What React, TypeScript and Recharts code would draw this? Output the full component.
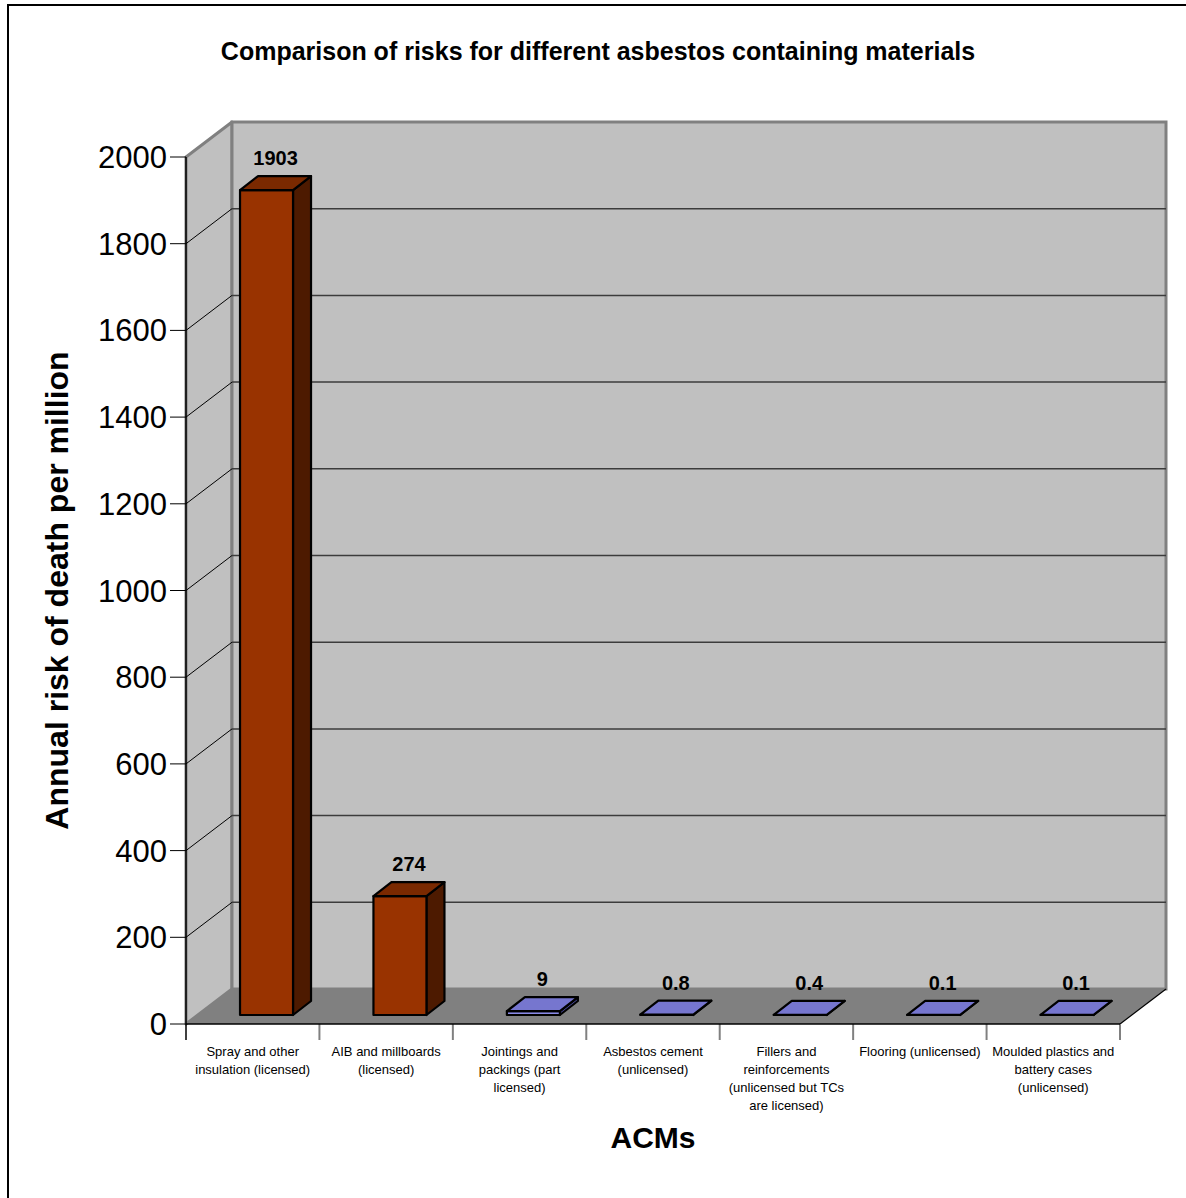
import React from 'react';
import {
  BarChart,
  Bar,
  XAxis,
  YAxis,
  CartesianGrid,
  ReferenceArea,
  LabelList,
} from 'recharts';

// ---------- data ----------
const CATEGORIES: string[] = [
  'Spray and other\ninsulation (licensed)',
  'AIB and millboards\n(licensed)',
  'Jointings and\npackings (part\nlicensed)',
  'Asbestos cement\n(unlicensed)',
  'Fillers and\nreinforcements\n(unlicensed but TCs\nare licensed)',
  'Flooring (unlicensed)',
  'Moulded plastics and\nbattery cases\n(unlicensed)',
];
const RISK_VALUES: number[] = [1903, 274, 9, 0.8, 0.4, 0.1, 0.1];
const Y_TICKS: number[] = [0, 200, 400, 600, 800, 1000, 1200, 1400, 1600, 1800, 2000];
const TITLE = 'Comparison of risks for different asbestos containing materials';
const Y_TITLE = 'Annual risk of death per million';
const X_TITLE = 'ACMs';

const chartData = CATEGORIES.map((name, i) => ({ name, value: RISK_VALUES[i] }));

// ---------- styling ----------
const FONT = "'Liberation Sans', Arial, Helvetica, sans-serif";
const WALL_DX = 46;
const WALL_DY = 35;
const BAR_FX = 14;
const BAR_FY = 9;
const BAR_DX = 18;
const BAR_DY = 14;
const BROWN = { front: '#993300', top: '#7A2900', side: '#4D1A00' };
const BLUE = { front: '#8A8AE6', top: '#7676CF', side: '#4B4B99' };
const paletteFor = (i: number) => (i < 2 ? BROWN : BLUE);

const Walls = (props: any) => {
  const { x, y, width, height } = props;
  const b = y + height;
  const r = x + width;
  return (
    <g>
      <polygon
        points={`${x},${y} ${x + WALL_DX},${y - WALL_DY} ${x + WALL_DX},${b - WALL_DY} ${x},${b}`}
        fill="#C0C0C0"
        stroke="#808080"
        strokeWidth={3}
        strokeLinejoin="round"
      />
      <rect x={x + WALL_DX} y={y - WALL_DY} width={width} height={height} fill="#C0C0C0" stroke="#808080" strokeWidth={3} />
      <polygon
        points={`${x},${b} ${r},${b} ${r + WALL_DX},${b - WALL_DY} ${x + WALL_DX},${b - WALL_DY}`}
        fill="#808080"
      />
      <line x1={r} y1={b} x2={r + WALL_DX} y2={b - WALL_DY} stroke="#000" strokeWidth={1.2} />
    </g>
  );
};

const GridLine = (p: any) => {
  const { x1, y1, x2, index } = p;
  let edge = false;
  if (typeof p.y === 'number' && typeof p.height === 'number') {
    edge = Math.abs(y1 - p.y) < 0.5 || Math.abs(y1 - (p.y + p.height)) < 0.5;
  } else {
    edge = index === 0 || index === Y_TICKS.length - 1;
  }
  if (edge) return <g key={p.key} />;
  return (
    <g key={p.key}>
      <line x1={x1} y1={y1} x2={x1 + WALL_DX} y2={y1 - WALL_DY} stroke="#000" strokeWidth={1} />
      <line x1={x1 + WALL_DX} y1={y1 - WALL_DY} x2={x2 + WALL_DX} y2={y1 - WALL_DY} stroke="#3C3C3C" strokeWidth={1.5} />
    </g>
  );
};

const XTickMark = (p: any) => {
  const bottom = Math.max(p.y1, p.y2);
  const first = p.index === 0;
  return (
    <line
      key={p.key}
      x1={p.x1}
      y1={bottom}
      x2={p.x1}
      y2={bottom + 16}
      stroke={first ? '#000' : '#808080'}
      strokeWidth={first ? 1.5 : 2}
    />
  );
};

const boundaryGenerator = ({ xAxis, offset }: any) => {
  const s = xAxis && xAxis.scale;
  if (typeof s === 'function' && typeof s.bandwidth === 'function') {
    const bw = s.bandwidth();
    const xs = CATEGORIES.map((c) => s(c));
    if (xs.every((v) => typeof v === 'number' && !isNaN(v))) {
      return [...xs, xs[xs.length - 1] + bw];
    }
  }
  const n = CATEGORIES.length;
  return [...CATEGORIES.map((_, i) => offset.left + (i * offset.width) / n), offset.left + offset.width];
};

const Bar3D = (props: any) => {
  const { x, y, width, height, index } = props;
  const pal = paletteFor(index);
  const h = Math.max(height, 0);
  const fx = x + BAR_FX;
  const fy = y - BAR_FY;
  const bottom = fy + h;
  return (
    <g>
      <polygon
        points={`${fx + width},${fy} ${fx + width + BAR_DX},${fy - BAR_DY} ${fx + width + BAR_DX},${bottom - BAR_DY} ${fx + width},${bottom}`}
        fill={pal.side}
        stroke="#000"
        strokeWidth={2.2}
        strokeLinejoin="round"
      />
      <rect x={fx} y={fy} width={width} height={h} fill={pal.front} stroke="#000" strokeWidth={2.2} strokeLinejoin="round" />
      <polygon
        points={`${fx},${fy} ${fx + BAR_DX},${fy - BAR_DY} ${fx + width + BAR_DX},${fy - BAR_DY} ${fx + width},${fy}`}
        fill={pal.top}
        stroke="#000"
        strokeWidth={2.2}
        strokeLinejoin="round"
      />
    </g>
  );
};

const ValueLabel = (props: any) => {
  const { x, y, width, value } = props;
  const cx = x + BAR_FX + width / 2 + BAR_DX / 2;
  const cy = y - BAR_FY - BAR_DY - 18;
  return (
    <text x={cx} y={cy + 7} textAnchor="middle" fontFamily={FONT} fontWeight="bold" fontSize={20} fill="#000">
      {String(value)}
    </text>
  );
};

const CatTick = (props: any) => {
  const { x, y, payload } = props;
  const lines = String(payload.value).split('\n');
  return (
    <text x={x} y={y} textAnchor="middle" fontFamily={FONT} fontSize={13} fill="#000">
      {lines.map((l, i) => (
        <tspan key={i} x={x} y={y + 32 + i * 18}>
          {l}
        </tspan>
      ))}
    </text>
  );
};

const YTitle = (props: any) => {
  const vb = props.viewBox || {};
  const cx = vb.x + 51;
  const cy = vb.y + vb.height / 2;
  return (
    <text
      x={cx}
      y={cy}
      transform={`rotate(-90 ${cx} ${cy})`}
      textAnchor="middle"
      dominantBaseline="central"
      fontFamily={FONT}
      fontWeight="bold"
      fontSize={32}
      fill="#000"
    >
      {Y_TITLE}
    </text>
  );
};

const XTitle = (props: any) => {
  const vb = props.viewBox || {};
  const cx = vb.x + vb.width / 2;
  const cy = vb.y + 113;
  return (
    <text x={cx} y={cy + 11} textAnchor="middle" fontFamily={FONT} fontWeight="bold" fontSize={30} fill="#000">
      {X_TITLE}
    </text>
  );
};

function XTitleLabel(props: any) {
  return <XTitle {...props} />;
}
function YTitleLabel(props: any) {
  return <YTitle {...props} />;
}

export default function App() {
  return (
    <div style={{ position: 'absolute', left: 0, top: 0, width: 1186, height: 1198, overflow: 'hidden', background: '#fff' }}>
      <div
        style={{
          position: 'absolute',
          left: 7,
          top: 4,
          width: 1200,
          height: 1210,
          borderLeft: '2px solid #000',
          borderTop: '2px solid #000',
        }}
      />
      <div
        style={{
          position: 'absolute',
          left: 0,
          top: 36,
          width: 1196,
          textAlign: 'center',
          fontFamily: FONT,
          fontWeight: 'bold',
          fontSize: 25,
          lineHeight: '30px',
          color: '#000',
        }}
      >
        {TITLE}
      </div>
      <div style={{ position: 'absolute', left: 0, top: 0 }}>
        <BarChart
          width={1186}
          height={1198}
          data={chartData}
          margin={{ top: 157, right: 66, bottom: 44, left: 6 }}
          barCategoryGap="30%"
        >
          <ReferenceArea y1={0} y2={2000} ifOverflow="visible" shape={<Walls />} zIndex={-200} />
          <CartesianGrid
            zIndex={-50}
            horizontal={(p: any) => <GridLine {...p} />}
            vertical={(p: any) => <XTickMark {...p} />}
            verticalCoordinatesGenerator={boundaryGenerator}
          />
          <XAxis
            dataKey="name"
            interval={0}
            height={130}
            tickLine={false}
            tickSize={0}
            tickMargin={0}
            axisLine={{ stroke: '#000', strokeWidth: 1.5 }}
            tick={<CatTick />}
            label={<XTitleLabel />}
          />
          <YAxis
            type="number"
            domain={[0, 2000]}
            ticks={Y_TICKS}
            interval={0}
            allowDataOverflow
            width={180}
            tick={{ fontSize: 31, fill: '#000', fontFamily: FONT }}
            tickLine={{ stroke: '#000', strokeWidth: 1 }}
            tickSize={16}
            tickMargin={3}
            axisLine={{ stroke: '#000', strokeWidth: 1.5 }}
            label={<YTitleLabel />}
          />
          <Bar dataKey="value" isAnimationActive={false} shape={(p: any) => <Bar3D {...p} />}>
            <LabelList dataKey="value" content={(p: any) => <ValueLabel {...p} />} />
          </Bar>
        </BarChart>
      </div>
    </div>
  );
}
